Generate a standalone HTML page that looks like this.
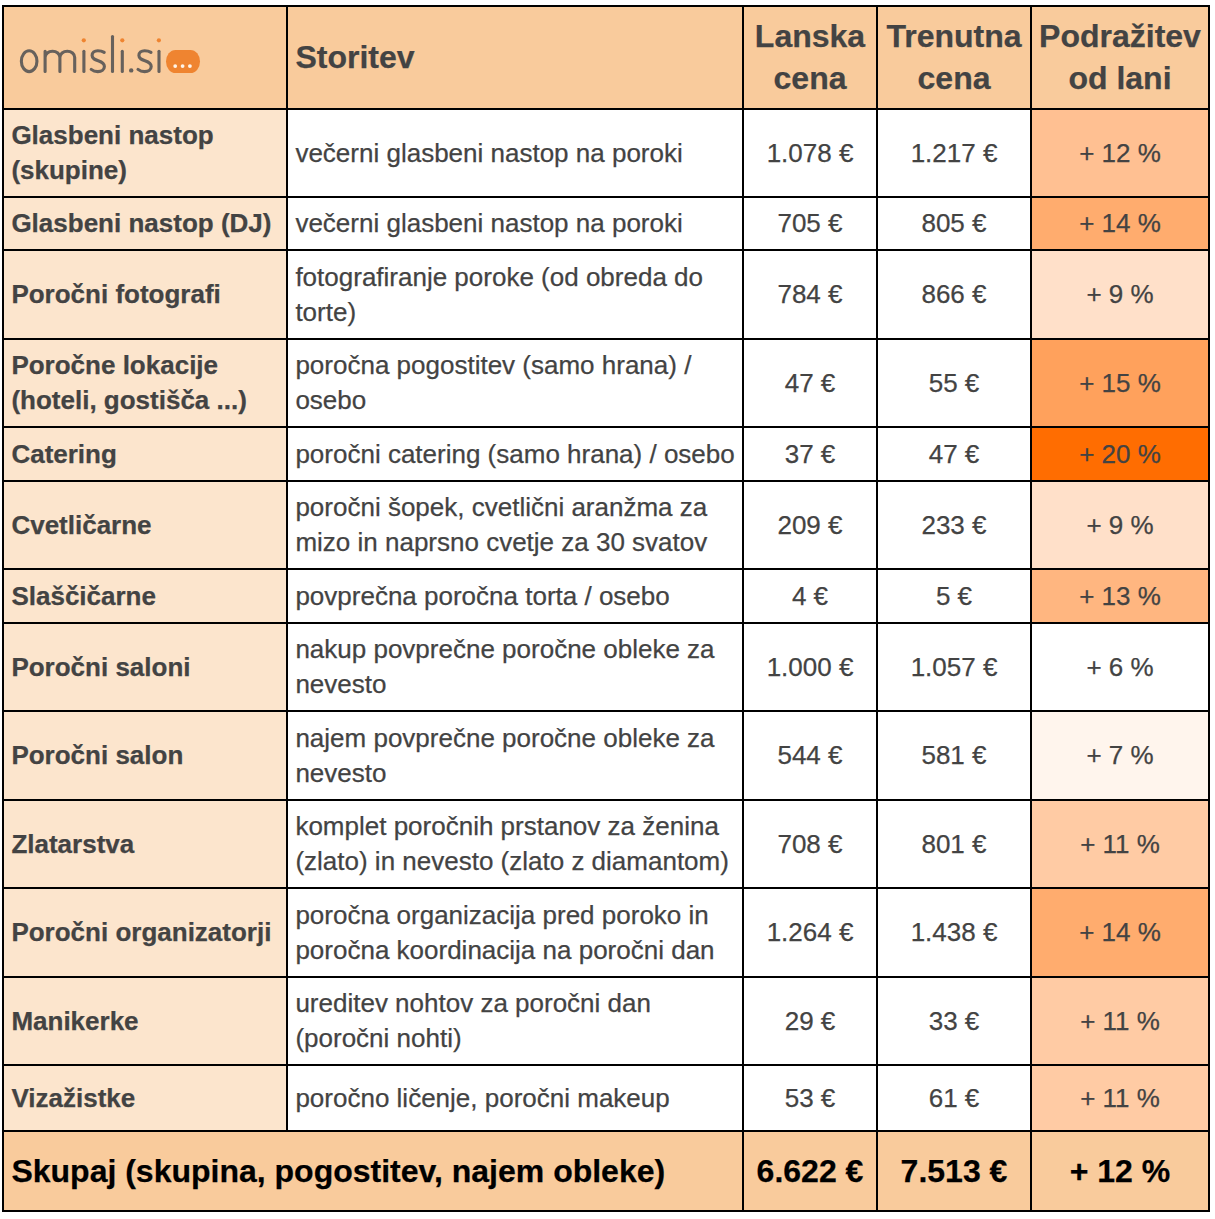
<!DOCTYPE html>
<html><head><meta charset="utf-8"><style>
html,body{margin:0;padding:0;background:#fff;width:1215px;height:1219px;overflow:hidden;position:relative}
.c{position:absolute;box-sizing:border-box;display:flex;align-items:center;font-family:"Liberation Sans",sans-serif;color:#434343;white-space:nowrap;-webkit-text-stroke:0.25px currentColor}
.l{justify-content:flex-start;padding-left:7.4px;text-align:left}
.m{justify-content:center;text-align:center}
.b{font-weight:700;font-size:26px;line-height:35px}
.n{font-weight:400;font-size:26px;line-height:35px}
.hd{font-weight:700;font-size:32px;line-height:42px;padding-bottom:2px}
.ft{font-weight:700;font-size:32px;line-height:42px;color:#000}
.ln{position:absolute;background:#000}
.logo{position:absolute;left:0;top:0}
</style></head><body>
<div class="c hd" style="left:4px;top:7px;width:282px;height:101px;background:#f9cb9c;"></div><div class="c hd l" style="left:288px;top:7px;width:454px;height:101px;background:#f9cb9c;">Storitev</div><div class="c hd m" style="left:744px;top:7px;width:132px;height:101px;background:#f9cb9c;">Lanska<br>cena</div><div class="c hd m" style="left:878px;top:7px;width:152px;height:101px;background:#f9cb9c;">Trenutna<br>cena</div><div class="c hd m" style="left:1032px;top:7px;width:176px;height:101px;background:#f9cb9c;">Podražitev<br>od lani</div><div class="c b l" style="left:4px;top:110px;width:282px;height:86px;background:#fce5cd;">Glasbeni nastop<br>(skupine)</div><div class="c n l" style="left:288px;top:110px;width:454px;height:86px;background:#fff;">večerni glasbeni nastop na poroki</div><div class="c n m" style="left:744px;top:110px;width:132px;height:86px;background:#fff;">1.078 €</div><div class="c n m" style="left:878px;top:110px;width:152px;height:86px;background:#fff;">1.217 €</div><div class="c n m" style="left:1032px;top:110px;width:176px;height:86px;background:#ffc092;">+ 12 %</div><div class="c b l" style="left:4px;top:198px;width:282px;height:51px;background:#fce5cd;">Glasbeni nastop (DJ)</div><div class="c n l" style="left:288px;top:198px;width:454px;height:51px;background:#fff;">večerni glasbeni nastop na poroki</div><div class="c n m" style="left:744px;top:198px;width:132px;height:51px;background:#fff;">705 €</div><div class="c n m" style="left:878px;top:198px;width:152px;height:51px;background:#fff;">805 €</div><div class="c n m" style="left:1032px;top:198px;width:176px;height:51px;background:#ffac6e;">+ 14 %</div><div class="c b l" style="left:4px;top:251px;width:282px;height:87px;background:#fce5cd;">Poročni fotografi</div><div class="c n l" style="left:288px;top:251px;width:454px;height:87px;background:#fff;">fotografiranje poroke (od obreda do<br>torte)</div><div class="c n m" style="left:744px;top:251px;width:132px;height:87px;background:#fff;">784 €</div><div class="c n m" style="left:878px;top:251px;width:152px;height:87px;background:#fff;">866 €</div><div class="c n m" style="left:1032px;top:251px;width:176px;height:87px;background:#ffe0c9;">+ 9 %</div><div class="c b l" style="left:4px;top:340px;width:282px;height:86px;background:#fce5cd;">Poročne lokacije<br>(hoteli, gostišča ...)</div><div class="c n l" style="left:288px;top:340px;width:454px;height:86px;background:#fff;">poročna pogostitev (samo hrana) /<br>osebo</div><div class="c n m" style="left:744px;top:340px;width:132px;height:86px;background:#fff;">47 €</div><div class="c n m" style="left:878px;top:340px;width:152px;height:86px;background:#fff;">55 €</div><div class="c n m" style="left:1032px;top:340px;width:176px;height:86px;background:#ffa15c;">+ 15 %</div><div class="c b l" style="left:4px;top:428px;width:282px;height:52px;background:#fce5cd;">Catering</div><div class="c n l" style="left:288px;top:428px;width:454px;height:52px;background:#fff;">poročni catering (samo hrana) / osebo</div><div class="c n m" style="left:744px;top:428px;width:132px;height:52px;background:#fff;">37 €</div><div class="c n m" style="left:878px;top:428px;width:152px;height:52px;background:#fff;">47 €</div><div class="c n m" style="left:1032px;top:428px;width:176px;height:52px;background:#ff6d01;">+ 20 %</div><div class="c b l" style="left:4px;top:482px;width:282px;height:86px;background:#fce5cd;">Cvetličarne</div><div class="c n l" style="left:288px;top:482px;width:454px;height:86px;background:#fff;">poročni šopek, cvetlični aranžma za<br>mizo in naprsno cvetje za 30 svatov</div><div class="c n m" style="left:744px;top:482px;width:132px;height:86px;background:#fff;">209 €</div><div class="c n m" style="left:878px;top:482px;width:152px;height:86px;background:#fff;">233 €</div><div class="c n m" style="left:1032px;top:482px;width:176px;height:86px;background:#ffe0c9;">+ 9 %</div><div class="c b l" style="left:4px;top:570px;width:282px;height:52px;background:#fce5cd;">Slaščičarne</div><div class="c n l" style="left:288px;top:570px;width:454px;height:52px;background:#fff;">povprečna poročna torta / osebo</div><div class="c n m" style="left:744px;top:570px;width:132px;height:52px;background:#fff;">4 €</div><div class="c n m" style="left:878px;top:570px;width:152px;height:52px;background:#fff;">5 €</div><div class="c n m" style="left:1032px;top:570px;width:176px;height:52px;background:#ffb680;">+ 13 %</div><div class="c b l" style="left:4px;top:624px;width:282px;height:86px;background:#fce5cd;">Poročni saloni</div><div class="c n l" style="left:288px;top:624px;width:454px;height:86px;background:#fff;">nakup povprečne poročne obleke za<br>nevesto</div><div class="c n m" style="left:744px;top:624px;width:132px;height:86px;background:#fff;">1.000 €</div><div class="c n m" style="left:878px;top:624px;width:152px;height:86px;background:#fff;">1.057 €</div><div class="c n m" style="left:1032px;top:624px;width:176px;height:86px;background:#ffffff;">+ 6 %</div><div class="c b l" style="left:4px;top:712px;width:282px;height:87px;background:#fce5cd;">Poročni salon</div><div class="c n l" style="left:288px;top:712px;width:454px;height:87px;background:#fff;">najem povprečne poročne obleke za<br>nevesto</div><div class="c n m" style="left:744px;top:712px;width:132px;height:87px;background:#fff;">544 €</div><div class="c n m" style="left:878px;top:712px;width:152px;height:87px;background:#fff;">581 €</div><div class="c n m" style="left:1032px;top:712px;width:176px;height:87px;background:#fff5ed;">+ 7 %</div><div class="c b l" style="left:4px;top:801px;width:282px;height:86px;background:#fce5cd;">Zlatarstva</div><div class="c n l" style="left:288px;top:801px;width:454px;height:86px;background:#fff;">komplet poročnih prstanov za ženina<br>(zlato) in nevesto (zlato z diamantom)</div><div class="c n m" style="left:744px;top:801px;width:132px;height:86px;background:#fff;">708 €</div><div class="c n m" style="left:878px;top:801px;width:152px;height:86px;background:#fff;">801 €</div><div class="c n m" style="left:1032px;top:801px;width:176px;height:86px;background:#ffcba4;">+ 11 %</div><div class="c b l" style="left:4px;top:889px;width:282px;height:87px;background:#fce5cd;">Poročni organizatorji</div><div class="c n l" style="left:288px;top:889px;width:454px;height:87px;background:#fff;">poročna organizacija pred poroko in<br>poročna koordinacija na poročni dan</div><div class="c n m" style="left:744px;top:889px;width:132px;height:87px;background:#fff;">1.264 €</div><div class="c n m" style="left:878px;top:889px;width:152px;height:87px;background:#fff;">1.438 €</div><div class="c n m" style="left:1032px;top:889px;width:176px;height:87px;background:#ffac6e;">+ 14 %</div><div class="c b l" style="left:4px;top:978px;width:282px;height:86px;background:#fce5cd;">Manikerke</div><div class="c n l" style="left:288px;top:978px;width:454px;height:86px;background:#fff;">ureditev nohtov za poročni dan<br>(poročni nohti)</div><div class="c n m" style="left:744px;top:978px;width:132px;height:86px;background:#fff;">29 €</div><div class="c n m" style="left:878px;top:978px;width:152px;height:86px;background:#fff;">33 €</div><div class="c n m" style="left:1032px;top:978px;width:176px;height:86px;background:#ffcba4;">+ 11 %</div><div class="c b l" style="left:4px;top:1066px;width:282px;height:64px;background:#fce5cd;">Vizažistke</div><div class="c n l" style="left:288px;top:1066px;width:454px;height:64px;background:#fff;">poročno ličenje, poročni makeup</div><div class="c n m" style="left:744px;top:1066px;width:132px;height:64px;background:#fff;">53 €</div><div class="c n m" style="left:878px;top:1066px;width:152px;height:64px;background:#fff;">61 €</div><div class="c n m" style="left:1032px;top:1066px;width:176px;height:64px;background:#ffcba4;">+ 11 %</div><div class="c ft l" style="left:4px;top:1132px;width:738px;height:78px;background:#f9cb9c;">Skupaj (skupina, pogostitev, najem obleke)</div><div class="c ft m" style="left:744px;top:1132px;width:132px;height:78px;background:#f9cb9c;">6.622 €</div><div class="c ft m" style="left:878px;top:1132px;width:152px;height:78px;background:#f9cb9c;">7.513 €</div><div class="c ft m" style="left:1032px;top:1132px;width:176px;height:78px;background:#f9cb9c;">+ 12 %</div>
<div class="ln" style="left:2px;top:5px;width:2px;height:1207px"></div><div class="ln" style="left:286px;top:5px;width:2px;height:1127px"></div><div class="ln" style="left:742px;top:5px;width:2px;height:1207px"></div><div class="ln" style="left:876px;top:5px;width:2px;height:1207px"></div><div class="ln" style="left:1030px;top:5px;width:2px;height:1207px"></div><div class="ln" style="left:1208px;top:5px;width:2px;height:1207px"></div><div class="ln" style="left:2px;top:5px;width:1208px;height:2px"></div><div class="ln" style="left:2px;top:108px;width:1208px;height:2px"></div><div class="ln" style="left:2px;top:196px;width:1208px;height:2px"></div><div class="ln" style="left:2px;top:249px;width:1208px;height:2px"></div><div class="ln" style="left:2px;top:338px;width:1208px;height:2px"></div><div class="ln" style="left:2px;top:426px;width:1208px;height:2px"></div><div class="ln" style="left:2px;top:480px;width:1208px;height:2px"></div><div class="ln" style="left:2px;top:568px;width:1208px;height:2px"></div><div class="ln" style="left:2px;top:622px;width:1208px;height:2px"></div><div class="ln" style="left:2px;top:710px;width:1208px;height:2px"></div><div class="ln" style="left:2px;top:799px;width:1208px;height:2px"></div><div class="ln" style="left:2px;top:887px;width:1208px;height:2px"></div><div class="ln" style="left:2px;top:976px;width:1208px;height:2px"></div><div class="ln" style="left:2px;top:1064px;width:1208px;height:2px"></div><div class="ln" style="left:2px;top:1130px;width:1208px;height:2px"></div><div class="ln" style="left:2px;top:1210px;width:1208px;height:2px"></div>
<svg class="logo" width="215" height="100" viewBox="0 0 215 100">
<g fill="none" stroke="#67615c" stroke-width="3.1" stroke-linecap="round">
<ellipse cx="29.15" cy="61.2" rx="7.8" ry="10.4"/>
<path d="M45.1 71.4 V51.2 M45.1 57.5 A7.4 6.3 0 0 1 59.9 57.5 V71.4 M59.9 57.5 A7.4 6.3 0 0 1 74.7 57.5 V71.4"/>
<path d="M83.9 51.3 V71.4"/>
<path d="M104.2 52.4 C102 51 100 50.7 97.8 50.7 C94.5 50.7 92.1 52.6 92.1 55.5 C92.1 58.6 95 59.6 98.2 60.7 C101.8 61.9 104.4 63.3 104.4 66.5 C104.4 69.8 101.5 71.6 97.8 71.6 C95.2 71.6 93 70.8 91.2 69.4"/>
<path d="M112.5 36.6 V71.4"/>
<path d="M122.3 51.3 V71.4"/>
<path transform="translate(46.8 0)" d="M104.2 52.4 C102 51 100 50.7 97.8 50.7 C94.5 50.7 92.1 52.6 92.1 55.5 C92.1 58.6 95 59.6 98.2 60.7 C101.8 61.9 104.4 63.3 104.4 66.5 C104.4 69.8 101.5 71.6 97.8 71.6 C95.2 71.6 93 70.8 91.2 69.4"/>
<path d="M159 51.3 V71.4"/>
</g>
<circle cx="131.2" cy="70.4" r="2.2" fill="#67615c"/>
<g fill="#ef8430"><circle cx="83.8" cy="40.3" r="2.1"/><circle cx="122.3" cy="40.3" r="2.1"/><circle cx="158.9" cy="40.3" r="2.1"/>
<rect x="166" y="50" width="34" height="23" rx="9.5" ry="11.5"/></g>
<g fill="#fff4e8"><circle cx="175.2" cy="66.1" r="1.9"/><circle cx="182.6" cy="66.1" r="1.9"/><circle cx="189.9" cy="66.1" r="1.9"/></g>
</svg>
</body></html>
